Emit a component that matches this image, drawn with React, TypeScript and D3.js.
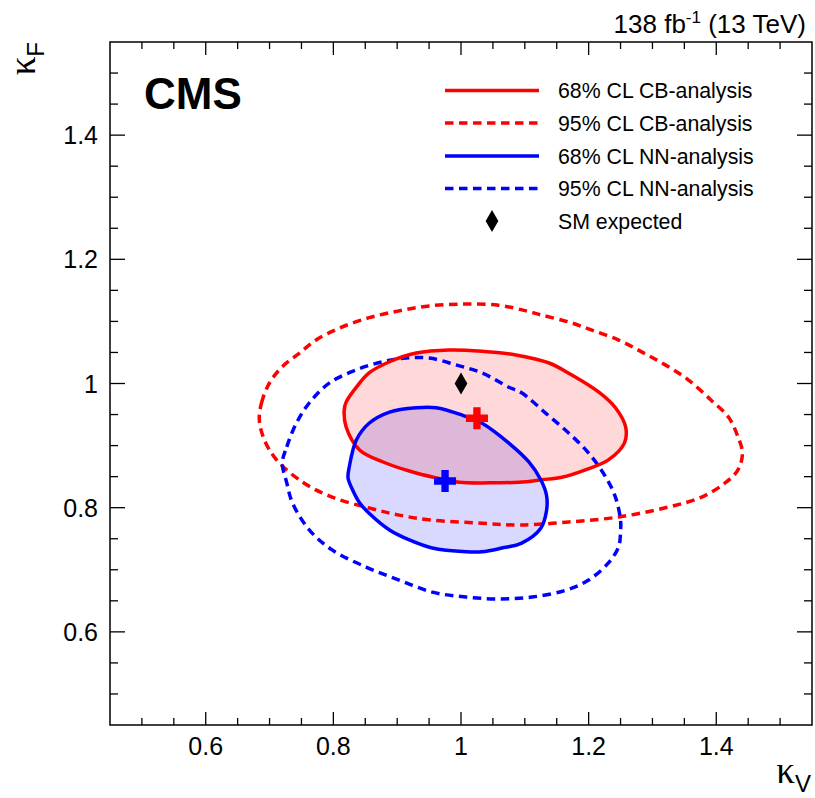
import React from "react";
import * as d3 from "d3";

const W = 815;
const H = 798;
const frame = { left: 110, right: 812, top: 42, bottom: 725 };

const xDomain: [number, number] = [0.45, 1.55];
const yDomain: [number, number] = [0.45, 1.55];
const majorTicks = [0.6, 0.8, 1.0, 1.2, 1.4];
const majorTickLabels = ["0.6", "0.8", "1", "1.2", "1.4"];

// 68% CL CB-analysis contour (kappa_V, kappa_F)
const cb68: [number, number][] = [
  [0.817, 0.957], [0.820, 0.970], [0.836, 0.994], [0.856, 1.017], [0.888, 1.035],
  [0.930, 1.049], [0.981, 1.054], [1.033, 1.052], [1.086, 1.046], [1.138, 1.033],
  [1.173, 1.014], [1.216, 0.986], [1.242, 0.961], [1.258, 0.930], [1.256, 0.904],
  [1.231, 0.877], [1.195, 0.861], [1.158, 0.849], [1.127, 0.845], [1.091, 0.841],
  [1.044, 0.840], [0.997, 0.841], [0.961, 0.848], [0.919, 0.859], [0.877, 0.874],
  [0.841, 0.893], [0.820, 0.930],
];

// 95% CL CB-analysis contour
const cb95: [number, number][] = [
  [0.684, 0.941], [0.6875, 0.969], [0.700, 1.001], [0.720, 1.027], [0.747, 1.049],
  [0.773, 1.070], [0.809, 1.089], [0.856, 1.106], [0.903, 1.117], [0.950, 1.125],
  [1.005, 1.128], [1.059, 1.126], [1.102, 1.117], [1.127, 1.110], [1.169, 1.099],
  [1.205, 1.086], [1.247, 1.070], [1.283, 1.051], [1.320, 1.030], [1.356, 1.006],
  [1.392, 0.973], [1.419, 0.946], [1.434, 0.914], [1.441, 0.888], [1.434, 0.861],
  [1.414, 0.840], [1.377, 0.817], [1.325, 0.801], [1.247, 0.785], [1.169, 0.777],
  [1.091, 0.772], [1.033, 0.775], [0.955, 0.780], [0.903, 0.788], [0.856, 0.7995],
  [0.798, 0.817], [0.752, 0.841], [0.711, 0.877], [0.692, 0.909],
];

// 68% CL NN-analysis contour
const nn68: [number, number][] = [
  [0.825, 0.866], [0.836, 0.909], [0.856, 0.936], [0.888, 0.954], [0.930, 0.961],
  [0.961, 0.961], [1.002, 0.949], [1.033, 0.936], [1.075, 0.904], [1.106, 0.874],
  [1.125, 0.845], [1.134, 0.820], [1.134, 0.795], [1.125, 0.767], [1.095, 0.743],
  [1.064, 0.735], [1.033, 0.729], [1.008, 0.729], [0.955, 0.735], [0.919, 0.748],
  [0.888, 0.764], [0.856, 0.791], [0.841, 0.808], [0.830, 0.829], [0.823, 0.848],
];

// 95% CL NN-analysis contour
const nn95: [number, number][] = [
  [0.720, 0.872], [0.727, 0.898], [0.742, 0.936], [0.7625, 0.969], [0.794, 1.001],
  [0.836, 1.022], [0.877, 1.035], [0.914, 1.041], [0.950, 1.041], [0.992, 1.030],
  [1.033, 1.017], [1.075, 0.994], [1.095, 0.985], [1.133, 0.952], [1.169, 0.920],
  [1.200, 0.888], [1.227, 0.849], [1.242, 0.817], [1.250, 0.780], [1.250, 0.761],
  [1.247, 0.737], [1.231, 0.711], [1.200, 0.6835], [1.164, 0.667], [1.111, 0.656],
  [1.059, 0.653], [1.008, 0.656], [0.955, 0.664], [0.903, 0.6835], [0.852, 0.704],
  [0.798, 0.732], [0.7625, 0.764], [0.736, 0.8075], [0.727, 0.840],
];

const cbBest: [number, number] = [1.025, 0.944];
const nnBest: [number, number] = [0.975, 0.843];
const smPoint: [number, number] = [1.0, 1.0];

const legendLabels = [
  "68% CL CB-analysis",
  "95% CL CB-analysis",
  "68% CL NN-analysis",
  "95% CL NN-analysis",
  "SM expected",
];

const RED = "#ff0000";
const BLUE = "#0000ff";
const SANS = "'Liberation Sans', Arial, Helvetica, sans-serif";
const SERIF = "'Liberation Serif', 'DejaVu Serif', serif";

export default function App() {
  const x = d3.scaleLinear().domain(xDomain).range([frame.left, frame.right]);
  const y = d3.scaleLinear().domain(yDomain).range([frame.bottom, frame.top]);

  const line = d3
    .line<[number, number]>()
    .x((d) => x(d[0]))
    .y((d) => y(d[1]))
    .curve(d3.curveCatmullRomClosed.alpha(0.5));

  const minorTicks = d3
    .range(0.5, 1.5001, 0.05)
    .map((v) => Math.round(v * 100) / 100)
    .filter((v) => !majorTicks.some((m) => Math.abs(m - v) < 1e-6));

  const cross = d3.symbol().type(d3.symbolCross).size(270)() as string;
  const diamond = d3.symbol().type(d3.symbolDiamond).size(140)() as string;

  const xMaj = 13, xMin = 7, yMaj = 15, yMin = 8;

  const legendY = [90.5, 123, 156, 188.5, 221];
  const legendX0 = 445, legendX1 = 539, legendTextX = 558;
  const dash = "8.5,5.5";

  return (
    <svg
      width={W}
      height={H}
      style={{ position: "absolute", left: 0, top: 0, background: "#fff" }}
      fontFamily={SANS}
    >
      <rect x={0} y={0} width={W} height={H} fill="#fff" />

      {/* filled 68% regions */}
      <path d={line(nn68) as string} fill={BLUE} fillOpacity={0.15} stroke="none" />
      <path d={line(cb68) as string} fill={RED} fillOpacity={0.15} stroke="none" />

      {/* contours */}
      <path d={line(cb95) as string} fill="none" stroke={RED} strokeWidth={3.5} strokeDasharray={dash} />
      <path d={line(nn95) as string} fill="none" stroke={BLUE} strokeWidth={3.5} strokeDasharray={dash} />
      <path d={line(cb68) as string} fill="none" stroke={RED} strokeWidth={3.5} />
      <path d={line(nn68) as string} fill="none" stroke={BLUE} strokeWidth={3.5} />

      {/* best fit and SM */}
      <path d={cross} transform={`translate(${x(cbBest[0])},${y(cbBest[1])})`} fill={RED} />
      <path d={cross} transform={`translate(${x(nnBest[0])},${y(nnBest[1])})`} fill={BLUE} />
      <path d={diamond} transform={`translate(${x(smPoint[0])},${y(smPoint[1])})`} fill="#000" />

      {/* frame */}
      <rect
        x={frame.left}
        y={frame.top}
        width={frame.right - frame.left}
        height={frame.bottom - frame.top}
        fill="none"
        stroke="#000"
        strokeWidth={1.5}
      />

      {/* ticks */}
      <g stroke="#000" strokeWidth={1.3}>
        {majorTicks.map((t) => (
          <g key={"xm" + t}>
            <line x1={x(t)} x2={x(t)} y1={frame.bottom} y2={frame.bottom - xMaj} />
            <line x1={x(t)} x2={x(t)} y1={frame.top} y2={frame.top + xMaj} />
            <line x1={frame.left} x2={frame.left + yMaj} y1={y(t)} y2={y(t)} />
            <line x1={frame.right} x2={frame.right - yMaj} y1={y(t)} y2={y(t)} />
          </g>
        ))}
        {minorTicks.map((t) => (
          <g key={"xn" + t}>
            <line x1={x(t)} x2={x(t)} y1={frame.bottom} y2={frame.bottom - xMin} />
            <line x1={x(t)} x2={x(t)} y1={frame.top} y2={frame.top + xMin} />
            <line x1={frame.left} x2={frame.left + yMin} y1={y(t)} y2={y(t)} />
            <line x1={frame.right} x2={frame.right - yMin} y1={y(t)} y2={y(t)} />
          </g>
        ))}
      </g>

      {/* tick labels */}
      <g fontSize={25} fill="#000">
        {majorTicks.map((t, i) => (
          <text key={"xl" + t} x={x(t)} y={755} textAnchor="middle">
            {majorTickLabels[i]}
          </text>
        ))}
        {majorTicks.map((t, i) => (
          <text key={"yl" + t} x={98} y={y(t)} dy="0.36em" textAnchor="end">
            {majorTickLabels[i]}
          </text>
        ))}
      </g>

      {/* axis titles */}
      <text x={811} y={783} textAnchor="end" fontFamily={SERIF} fontSize={37}>
        κ
        <tspan fontFamily={SANS} fontSize={24} dy={9}>V</tspan>
      </text>
      <text transform="translate(35,42) rotate(-90)" textAnchor="end" fontFamily={SERIF} fontSize={37}>
        κ
        <tspan fontFamily={SANS} fontSize={24} dy={9}>F</tspan>
      </text>

      {/* CMS label */}
      <text x={144} y={109} fontSize={44} fontWeight="bold">CMS</text>

      {/* luminosity */}
      <text x={806} y={33} textAnchor="end" fontSize={26}>
        138 fb
        <tspan fontSize={17} dy={-10}>-1</tspan>
        <tspan dy={10}> (13 TeV)</tspan>
      </text>

      {/* legend */}
      <line x1={legendX0} x2={legendX1} y1={legendY[0]} y2={legendY[0]} stroke={RED} strokeWidth={3.5} />
      <line x1={legendX0} x2={legendX1} y1={legendY[1]} y2={legendY[1]} stroke={RED} strokeWidth={3.5} strokeDasharray={dash} />
      <line x1={legendX0} x2={legendX1} y1={legendY[2]} y2={legendY[2]} stroke={BLUE} strokeWidth={3.5} />
      <line x1={legendX0} x2={legendX1} y1={legendY[3]} y2={legendY[3]} stroke={BLUE} strokeWidth={3.5} strokeDasharray={dash} />
      <path d={diamond} transform={`translate(${(legendX0 + legendX1) / 2},${legendY[4]})`} fill="#000" />
      <g fontSize={21.3} fill="#000">
        {legendLabels.map((l, i) => (
          <text key={l} x={legendTextX} y={legendY[i]} dy="0.36em">
            {l}
          </text>
        ))}
      </g>
    </svg>
  );
}
